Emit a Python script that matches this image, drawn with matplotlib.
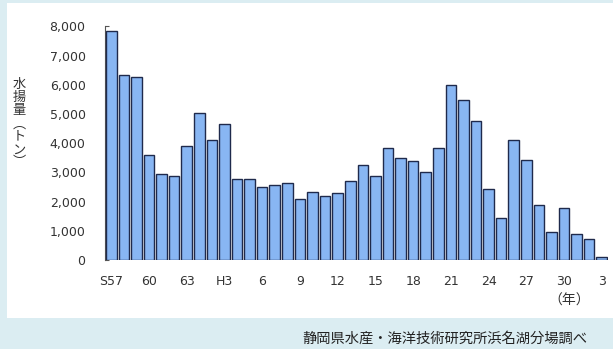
import matplotlib
matplotlib.use("Agg")
import matplotlib.pyplot as plt
from matplotlib.patches import Rectangle
from matplotlib.ticker import FuncFormatter

plt.rcParams['font.family'] = ['Noto Sans CJK JP', 'DejaVu Sans']

# 浜名湖 水揚量 (トン), S57 - R3
years = (['S57', '58', '59', '60', '61', '62', '63']
         + ['H%d' % i if i == 1 else str(i) for i in range(1, 31)]
         + ['R1', '2', '3'])
catch = [7850, 6350, 6250, 3600, 2950, 2870, 3900,
         5050, 4100, 4650, 2770, 2770, 2500, 2570, 2630, 2090, 2320,
         2200, 2300, 2690, 3240, 2890, 3850, 3510, 3400, 3020, 3850,
         6000, 5490, 4760, 2440, 1430, 4110, 3420, 1890, 960, 1790,
         880, 720, 110]
tick_labels = ['S57', '60', '63', 'H3', '6', '9', '12', '15', '18',
               '21', '24', '27', '30', '3']
yticks = [0, 1000, 2000, 3000, 4000, 5000, 6000, 7000, 8000]

fig = plt.figure(figsize=(6.13, 3.49), dpi=100)
fig.patch.set_facecolor('#dbedf2')
# white panel behind the chart
fig.patches.append(Rectangle((0.0114, 0.089), 1.0, 0.902,
                             transform=fig.transFigure,
                             facecolor='white', edgecolor='none', zorder=0))

ax = fig.add_axes([0.1713, 0.255, 0.8206, 0.6694])
ax.set_zorder(2)
ax.set_facecolor('none')

x = list(range(len(catch)))
ax.bar(x, catch, width=0.84, color='#88b6f3', edgecolor='#1f2a4c',
       linewidth=1.0, zorder=3)

ax.set_xlim(-0.5, len(catch) - 0.5)
ax.set_ylim(0, 8000)
ax.set_yticks(yticks)
ax.yaxis.set_major_formatter(FuncFormatter(lambda v, p: '{:,.0f}'.format(v)))
ax.set_xticks(x[::3])
ax.set_xticklabels(tick_labels)

for s in ['top', 'right', 'bottom']:
    ax.spines[s].set_visible(False)
ax.spines['left'].set_color('#555555')
ax.spines['left'].set_linewidth(0.8)
ax.tick_params(axis='y', direction='in', length=3, color='#555555',
               labelsize=9, labelcolor='#333333', pad=14)
ax.tick_params(axis='x', length=0, labelsize=9, labelcolor='#333333',
               pad=11)
for lbl in ax.get_xticklabels() + ax.get_yticklabels():
    lbl.set_family('DejaVu Sans')

fig.text(0.031, 0.645, '\n'.join('水揚量︵トン︶'), ha='center', va='center',
         fontsize=9.5, color='#333333', linespacing=1.0, zorder=3)
fig.text(0.928, 0.138, '（年）', ha='center', va='center', fontsize=10,
         color='#333333', zorder=3)
fig.text(0.725, 0.03, '静岡県水産・海洋技術研究所浜名湖分場調べ', ha='center',
         va='center', fontsize=10.3, color='#222222', zorder=3)

fig.savefig('out.png', dpi=100, facecolor=fig.get_facecolor())
